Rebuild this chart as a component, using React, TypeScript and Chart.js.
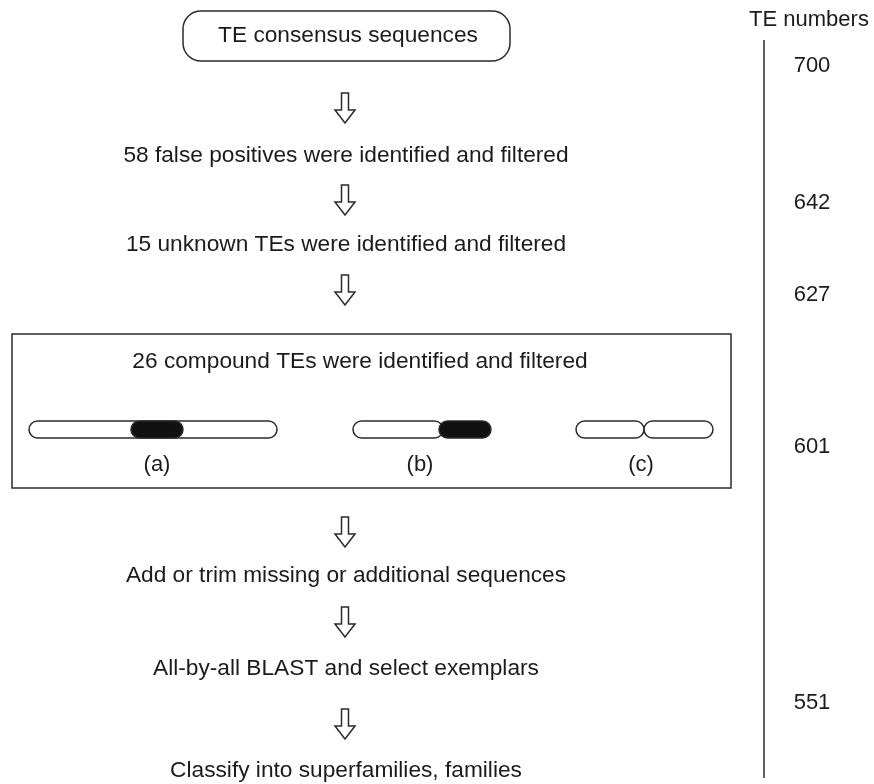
import React, { useEffect, useRef } from "react";
import { Chart, registerables } from "chart.js";

Chart.register(...registerables);

const W = 874;
const H = 784;

// ---- content ----
const stepLabels = [
  "TE consensus sequences",
  "58 false positives were identified and filtered",
  "15 unknown TEs were identified and filtered",
  "26 compound TEs were identified and filtered",
  "Add or trim missing or additional sequences",
  "All-by-all BLAST and select exemplars",
  "Classify into superfamilies, families",
];
const teTitle = "TE numbers";
const teNumbers = [700, 642, 627, 601, 551];
const compoundLabels = ["(a)", "(b)", "(c)"];

// ---- layout (drawing units, mapped through the chart scales) ----
const stepX = [348, 346, 346, 360, 346, 346, 346];
const stepY = [36, 156, 245, 362, 576, 669, 771];
const arrowX = 345;
const arrowY = [108, 200, 290, 532, 622, 724];
const numberX = 812;
const numberY = [66, 203, 295, 447, 703];
const axisX = 764;
const axisTop = 40;
const axisBottom = 778;
const titleX = 809;
const titleY = 20;
const startBox = { x0: 183, x1: 510, y0: 11, y1: 61, r: 18 };
const compoundBox = { x0: 12, x1: 731, y0: 334, y1: 488 };
const barY = 429.5;
const barH = 17;
// capsules: [x0, x1, filled]
const capsules: [number, number, boolean][][] = [
  [
    [29, 277, false],
    [131, 183, true],
  ],
  [
    [353, 443, false],
    [439, 491, true],
  ],
  [
    [576, 644, false],
    [644, 713, false],
  ],
];
const labelX = [157, 420, 641];
const labelY = 465;

const FONT = '"Liberation Sans", Arial, Helvetica, sans-serif';
const INK = "#1b1b1b";
const LINE = "#2b2b2b";

const flowPlugin = {
  id: "flow",
  afterDatasetsDraw(chart: any) {
    const ctx: CanvasRenderingContext2D = chart.ctx;
    const sx = chart.scales.x;
    const sy = chart.scales.y;
    const X = (v: number) => sx.getPixelForValue(v);
    const Y = (v: number) => sy.getPixelForValue(v);

    ctx.save();
    ctx.strokeStyle = LINE;
    ctx.lineWidth = 1.5;
    ctx.lineJoin = "miter";

    // start box (rounded)
    ctx.beginPath();
    ctx.roundRect(
      X(startBox.x0),
      Y(startBox.y0),
      X(startBox.x1) - X(startBox.x0),
      Y(startBox.y1) - Y(startBox.y0),
      startBox.r
    );
    ctx.fillStyle = "#fff";
    ctx.fill();
    ctx.stroke();

    // compound box
    ctx.beginPath();
    ctx.rect(
      X(compoundBox.x0),
      Y(compoundBox.y0),
      X(compoundBox.x1) - X(compoundBox.x0),
      Y(compoundBox.y1) - Y(compoundBox.y0)
    );
    ctx.stroke();

    // arrows (hollow, pointing down)
    arrowY.forEach((ay) => {
      const c = X(arrowX);
      const top = Y(ay - 15);
      const hs = Y(ay + 2);
      const tip = Y(ay + 15);
      ctx.beginPath();
      ctx.moveTo(c - 3.5, top);
      ctx.lineTo(c + 3.5, top);
      ctx.lineTo(c + 3.5, hs);
      ctx.lineTo(c + 10, hs);
      ctx.lineTo(c, tip);
      ctx.lineTo(c - 10, hs);
      ctx.lineTo(c - 3.5, hs);
      ctx.closePath();
      ctx.stroke();
    });

    // capsules
    capsules.forEach((group) => {
      group.forEach(([a, b, filled]) => {
        const x = X(a);
        const w = X(b) - X(a);
        const y = Y(barY - barH / 2);
        const h = Y(barY + barH / 2) - y;
        ctx.beginPath();
        ctx.roundRect(x, y, w, h, h / 2);
        ctx.fillStyle = filled ? "#111" : "#fff";
        ctx.fill();
        ctx.stroke();
      });
    });

    // texts
    ctx.fillStyle = INK;
    ctx.textAlign = "center";
    ctx.textBaseline = "middle";
    ctx.font = `22.7px ${FONT}`;
    stepLabels.forEach((t, i) => {
      ctx.fillText(t, X(stepX[i]), Y(stepY[i]));
    });
    ctx.font = `22px ${FONT}`;
    compoundLabels.forEach((t, i) => {
      ctx.fillText(t, X(labelX[i]), Y(labelY));
    });
    ctx.fillText(teTitle, X(titleX), Y(titleY));

    // TE numbers placed at their dataset points
    const meta = chart.getDatasetMeta(1);
    meta.data.forEach((pt: any, i: number) => {
      ctx.fillText(String(teNumbers[i]), pt.x, pt.y);
    });

    ctx.restore();
  },
};

export default function App() {
  const ref = useRef<HTMLCanvasElement | null>(null);

  useEffect(() => {
    document.body.style.margin = "0";
    const canvas = ref.current;
    if (!canvas) return;
    const chart = new Chart(canvas, {
      type: "scatter",
      data: {
        datasets: [
          {
            type: "line",
            label: "axis",
            data: [
              { x: axisX, y: axisTop },
              { x: axisX, y: axisBottom },
            ],
            borderColor: LINE,
            borderWidth: 1.5,
            pointRadius: 0,
            fill: false,
          } as any,
          {
            label: teTitle,
            data: teNumbers.map((_, i) => ({ x: numberX, y: numberY[i] })),
            pointRadius: 0,
            pointHoverRadius: 0,
          },
        ],
      },
      options: {
        animation: false,
        responsive: false,
        maintainAspectRatio: false,
        devicePixelRatio: 1,
        layout: { padding: 0 },
        events: [],
        scales: {
          x: { type: "linear", min: 0, max: W, display: false },
          y: { type: "linear", min: 0, max: H, reverse: true, display: false },
        },
        plugins: {
          legend: { display: false },
          tooltip: { enabled: false },
        },
      },
      plugins: [flowPlugin],
    });
    return () => chart.destroy();
  }, []);

  return (
    <div style={{ width: W, height: H, background: "#fff" }}>
      <canvas ref={ref} width={W} height={H} style={{ display: "block" }} />
    </div>
  );
}
